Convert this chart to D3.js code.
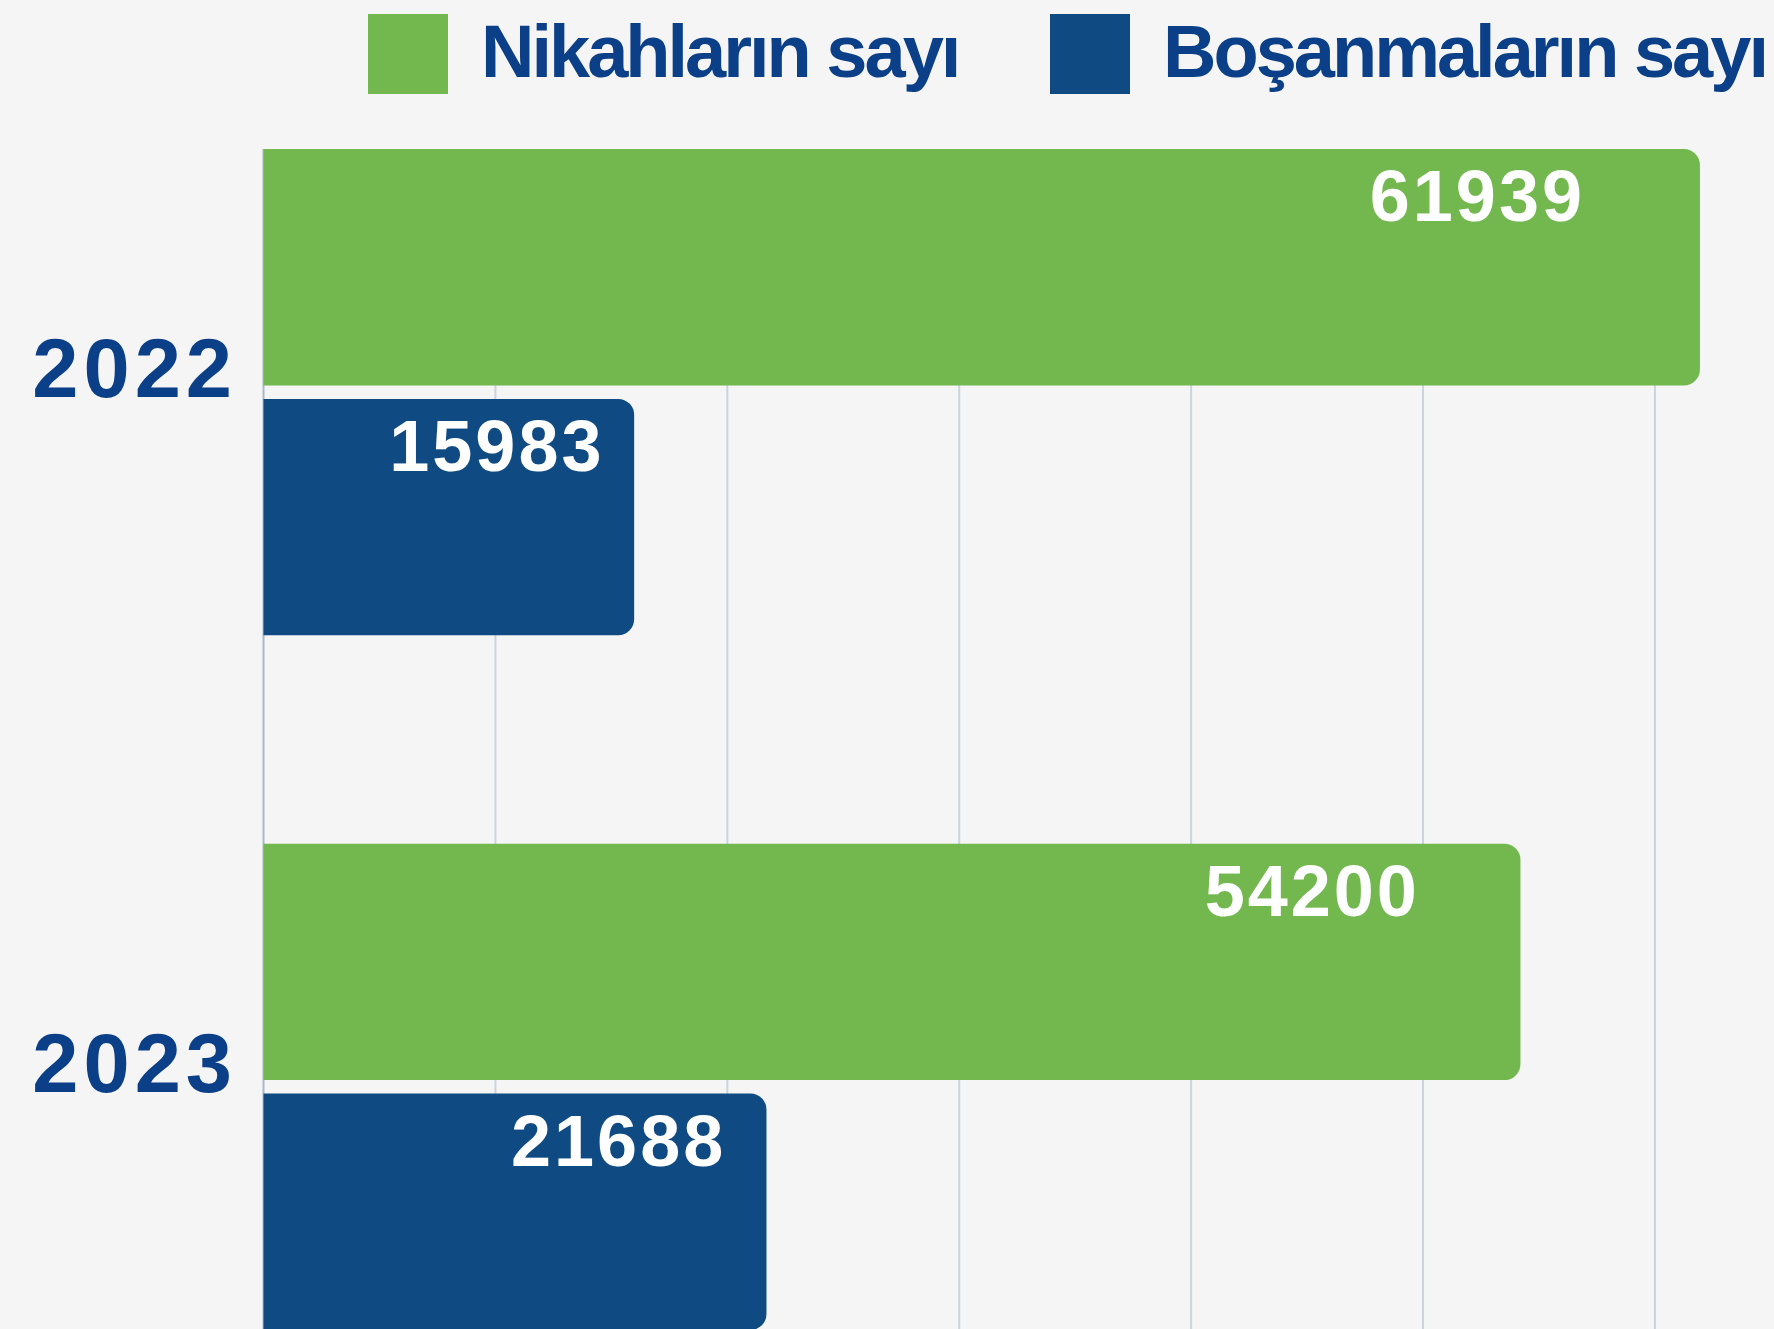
<!DOCTYPE html>
<html>
<head>
<meta charset="utf-8">
<script src="https://cdn.jsdelivr.net/npm/d3@7"></script>
<style>
  body { margin: 0; background: #f5f5f5; }
  svg { display: block; font-family: "Liberation Sans", Arial, sans-serif; }
</style>
</head>
<body>
<section></section>
<script>
// data
var years = ["2022", "2023"];
var seriesNames = ["Nikahların sayı", "Boşanmaların sayı"];
var marriages = [61939, 54200];
var divorces = [15983, 21688];
var gridTicks = [0, 10000, 20000, 30000, 40000, 50000, 60000];

var colors = ["#72b84e", "#0f4b82"];
var textBlue = "#0b3f87";

var width = 1774,
  height = 1329;

var svg = d3.select("section").append("svg")
  .attr("width", width)
  .attr("height", height);

svg.append("rect")
  .attr("width", width)
  .attr("height", height)
  .attr("fill", "#f5f5f5");

// scales
var x = d3.scaleLinear()
  .domain([0, 65000])
  .range([263.5, 1770.9]);

var y = d3.scaleBand()
  .domain(years)
  .range([149, 1330])
  .paddingInner(0.3);

var ySub = d3.scaleBand()
  .domain([0, 1])
  .range([0, y.bandwidth()])
  .paddingInner(0.054);

var rows = years.map(function(yr, i) {
  return {year: yr, values: [marriages[i], divorces[i]]};
});

// vertical grid lines
svg.append("g").selectAll("line")
  .data(gridTicks)
  .enter().append("line")
  .attr("x1", function(d) { return x(d); })
  .attr("x2", function(d) { return x(d); })
  .attr("y1", y.range()[0])
  .attr("y2", height)
  .attr("stroke", function(d) { return d === 0 ? "#a8b7cc" : "#c9d3e1"; })
  .attr("stroke-width", 2);

// bar with rounded right end only
function barPath(x0, y0, w, h, r) {
  r = Math.min(r, w / 2, h / 2);
  return "M" + x0 + "," + y0 +
    "h" + (w - r) +
    "a" + r + "," + r + " 0 0 1 " + r + "," + r +
    "v" + (h - 2 * r) +
    "a" + r + "," + r + " 0 0 1 " + (-r) + "," + r +
    "h" + (-(w - r)) + "Z";
}

var group = svg.append("g").selectAll(".year")
  .data(rows)
  .enter().append("g")
  .attr("class", "year")
  .attr("transform", function(d) { return "translate(0," + y(d.year) + ")"; });

var bars = group.selectAll(".bar")
  .data(function(d) { return d.values; })
  .enter().append("g")
  .attr("class", "bar");

bars.append("path")
  .attr("d", function(v, i) {
    return barPath(x(0), ySub(i), x(v) - x(0), ySub.bandwidth(), 16);
  })
  .attr("fill", function(v, i) { return colors[i]; });

bars.append("text")
  .attr("x", function(v) { return x(v * 0.92); })
  .attr("y", function(v, i) { return ySub(i) + 72; })
  .attr("text-anchor", "end")
  .attr("fill", "#ffffff")
  .attr("font-size", 72)
  .attr("font-weight", "bold")
  .attr("letter-spacing", 3)
  .text(function(v) { return v; });

// year labels
group.append("text")
  .attr("x", 237)
  .attr("y", ySub.bandwidth() + 12)
  .attr("text-anchor", "end")
  .attr("fill", textBlue)
  .attr("font-size", 83)
  .attr("font-weight", "bold")
  .attr("letter-spacing", 5)
  .text(function(d) { return d.year; });

// legend
var legendX = [368, 1050];
var legend = svg.append("g").selectAll(".legend")
  .data(seriesNames)
  .enter().append("g")
  .attr("class", "legend")
  .attr("transform", function(d, i) { return "translate(" + legendX[i] + ",14)"; });

legend.append("rect")
  .attr("width", 80)
  .attr("height", 80)
  .attr("fill", function(d, i) { return colors[i]; });

legend.append("text")
  .attr("x", 113)
  .attr("y", 63)
  .attr("fill", textBlue)
  .attr("font-size", 74)
  .attr("font-weight", "bold")
  .attr("letter-spacing", -3)
  .text(function(d) { return d; });
</script>
</body>
</html>
